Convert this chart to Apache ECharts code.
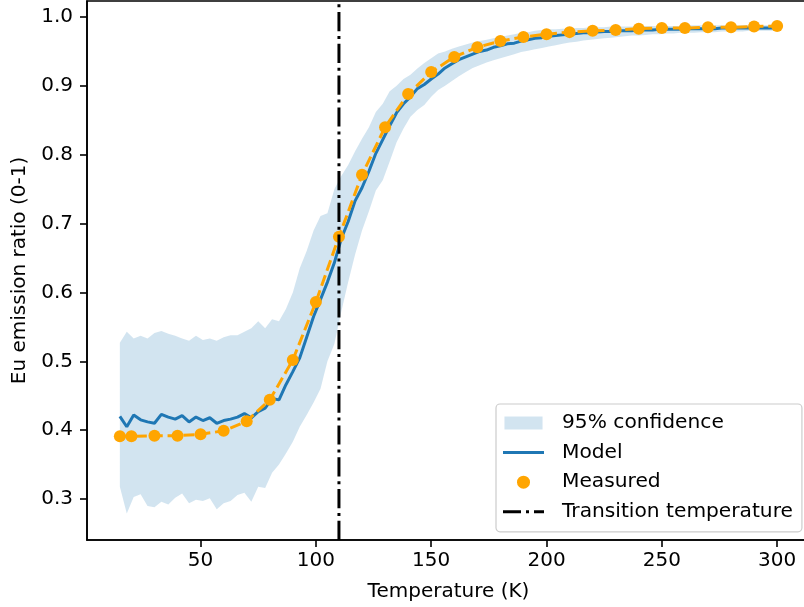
<!DOCTYPE html>
<html>
<head>
<meta charset="utf-8">
<script src="https://cdn.jsdelivr.net/npm/echarts@6/dist/echarts.min.js"></script>
<style>html,body{margin:0;padding:0;background:#fff}#c{width:804px;height:607px}</style>
</head>
<body>
<div id="c"></div>
<script>
// ---- data ----
const bandT = [15,18,21,24,27,30,33,36,39,42,45,48,51,54,57,60,63,66,69,72,75,78,81,84,87,90,93,96,99,102,105,108,111,114,117,120,123,126,129,132,135,138,141,144,147,150,153,156,159,162,165,168,171,174,177,180,183,186,189,192,195,198,201,204,207,210,213,216,219,222,225,228,231,234,237,240,243,246,249,252,255,258,261,264,267,270,273,276,279,282,285,288,291,294,297,300];
const modelY = [.420,.405,.422,.415,.412,.410,.423,.419,.416,.421,.412,.419,.414,.418,.410,.414,.416,.419,.424,.418,.427,.432,.446,.444,.466,.485,.505,.535,.565,.590,.615,.643,.678,.703,.733,.752,.776,.802,.822,.842,.861,.874,.884,.896,.902,.910,.917,.926,.932,.938,.942,.946,.950,.952,.956,.958,.961,.962,.965,.967,.969,.970,.972,.973,.974,.975,.976,.977,.977,.978,.979,.979,.980,.980,.980,.981,.981,.981,.982,.982,.982,.982,.983,.983,.983,.983,.983,.984,.984,.984,.984,.984,.984,.984,.984,.984];
const lowerY = [.318,.279,.303,.307,.290,.288,.296,.292,.302,.308,.294,.299,.297,.301,.285,.294,.297,.306,.309,.296,.318,.316,.338,.350,.366,.383,.405,.422,.440,.460,.500,.525,.572,.615,.655,.690,.718,.748,.763,.790,.818,.838,.855,.865,.872,.884,.894,.900,.907,.914,.920,.926,.930,.934,.937,.940,.943,.946,.949,.951,.953,.955,.957,.959,.961,.963,.964,.966,.967,.968,.969,.970,.971,.972,.973,.973,.974,.975,.975,.976,.976,.977,.977,.977,.978,.978,.978,.979,.979,.979,.979,.980,.980,.980,.980,.980];
const upperY = [.527,.543,.533,.537,.533,.541,.544,.540,.537,.533,.530,.537,.531,.533,.530,.535,.538,.538,.543,.548,.558,.548,.561,.558,.576,.600,.635,.660,.690,.711,.715,.750,.769,.785,.805,.823,.840,.862,.874,.892,.900,.910,.916,.925,.933,.940,.947,.950,.954,.957,.960,.963,.965,.967,.969,.971,.973,.975,.977,.978,.980,.981,.982,.982,.983,.983,.984,.984,.985,.985,.985,.986,.986,.986,.986,.987,.987,.987,.987,.987,.987,.987,.988,.988,.988,.988,.988,.988,.988,.988,.988,.988,.988,.988,.988,.988];
const measT = [15,20,30,40,50,60,70,80,90,100,110,120,130,140,150,160,170,180,190,200,210,220,230,240,250,260,270,280,290,300];
const measY = [.391,.391,.392,.392,.394,.399,.413,.444,.502,.586,.681,.771,.840,.888,.920,.942,.956,.965,.971,.975,.978,.980,.981,.983,.984,.984,.985,.985,.986,.987];
const transitionT = 110;
const xTicks = [50,100,150,200,250,300];
const yTicks = [0.3,0.4,0.5,0.6,0.7,0.8,0.9,1.0];
const xRange = [0.75, 314.25];
const yRange = [0.2405, 1.0232];

// ---- chart ----
const FONT = 'DejaVu Sans';
const FS = 20;
const chart = echarts.init(document.getElementById('c'), null, {renderer: 'canvas'});

const bandData = bandT.map((t, i) => [t, lowerY[i], upperY[i]]);

const option = {
  animation: false,
  backgroundColor: '#fff',
  textStyle: {fontFamily: FONT},
  grid: {left: 87, top: 1, width: 723, height: 539, show: true, borderColor: '#000', borderWidth: 1.6,
         containLabel: false, outerBoundsMode: 'none'},
  xAxis: {
    type: 'value', min: xRange[0], max: xRange[1],
    name: 'Temperature (K)', nameLocation: 'middle', nameGap: 42,
    nameTextStyle: {fontFamily: FONT, fontSize: FS, color: '#000'},
    axisLine: {lineStyle: {color: '#000', width: 1.6}},
    axisTick: {show: true, length: 7, lineStyle: {color: '#000', width: 1.6}, customValues: xTicks},
    axisLabel: {fontFamily: FONT, fontSize: FS, color: '#000', margin: 11, customValues: xTicks},
    splitLine: {show: false}
  },
  yAxis: {
    type: 'value', min: yRange[0], max: yRange[1],
    name: 'Eu emission ratio (0-1)', nameLocation: 'middle', nameGap: 57,
    nameTextStyle: {fontFamily: FONT, fontSize: FS, color: '#000'},
    axisLine: {show: true, lineStyle: {color: '#000', width: 1.6}},
    axisTick: {show: true, length: 7, lineStyle: {color: '#000', width: 1.6}, customValues: yTicks},
    axisLabel: {fontFamily: FONT, fontSize: FS, color: '#000', margin: 14, customValues: yTicks,
      formatter: v => v.toFixed(1)},
    splitLine: {show: false}
  },
  legend: {
    orient: 'vertical', left: 496, top: 404,
    itemWidth: 41, itemHeight: 13, itemGap: 9.6,
    padding: [9, 9, 10, 7],
    backgroundColor: 'rgba(255,255,255,0.8)',
    borderColor: '#cccccc', borderWidth: 1.2, borderRadius: 4,
    symbolKeepAspect: true,
    textStyle: {fontFamily: FONT, fontSize: 20.2, color: '#000', lineHeight: 20, padding: [0, 0, 0, 13]},
    data: [
      {name: '95% confidence', icon: 'path://M0,0h41v14h-41z', itemStyle: {color: 'rgba(31,119,180,0.2)', borderWidth: 0}},
      {name: 'Model', icon: 'path://M0,0h41v3h-41z', itemStyle: {color: '#1f77b4', borderWidth: 0}},
      {name: 'Measured', icon: 'circle', itemStyle: {color: '#FFA500', borderWidth: 0}},
      {name: 'Transition temperature', icon: 'path://M0,0h18v3h-18z M23,0h3v3h-3z M31,0h10v3h-10z', itemStyle: {color: '#000', borderWidth: 0}}
    ]
  },
  series: [
    {
      name: '95% confidence', type: 'custom', z: 1,
      itemStyle: {color: 'rgba(31,119,180,0.2)'},
      encode: {x: 0, y: [1, 2]},
      data: bandData,
      renderItem: function (params, api) {
        if (params.dataIndex !== 0) return null;
        const pts = [];
        for (let i = 0; i < bandT.length; i++) pts.push(api.coord([bandT[i], upperY[i]]));
        for (let i = bandT.length - 1; i >= 0; i--) pts.push(api.coord([bandT[i], lowerY[i]]));
        return {type: 'polygon', shape: {points: pts}, style: {fill: 'rgba(31,119,180,0.2)', stroke: null}, silent: true};
      }
    },
    {
      name: 'Model', type: 'line', z: 2, symbol: 'none', showSymbol: false,
      color: '#1f77b4',
      lineStyle: {color: '#1f77b4', width: 3},
      data: bandT.map((t, i) => [t, modelY[i]])
    },
    {
      name: 'Measured trend', type: 'line', z: 3, symbol: 'none', showSymbol: false,
      color: '#FFA500',
      lineStyle: {color: '#FFA500', width: 3, type: [11.1, 4.8]},
      data: measT.map((t, i) => [t, measY[i]])
    },
    {
      name: 'Measured', type: 'scatter', z: 4, symbol: 'circle', symbolSize: 12,
      itemStyle: {color: '#FFA500', opacity: 1},
      data: measT.map((t, i) => [t, measY[i]])
    },
    {
      name: 'Transition temperature', type: 'line', z: 5, symbol: 'none', showSymbol: false,
      color: '#000',
      lineStyle: {color: '#000', width: 3, type: [19.2, 4.8, 3, 4.8]},
      data: [[transitionT, yRange[0]], [transitionT, yRange[1]]]
    }
  ]
};
chart.setOption(option);
</script>
</body>
</html>
